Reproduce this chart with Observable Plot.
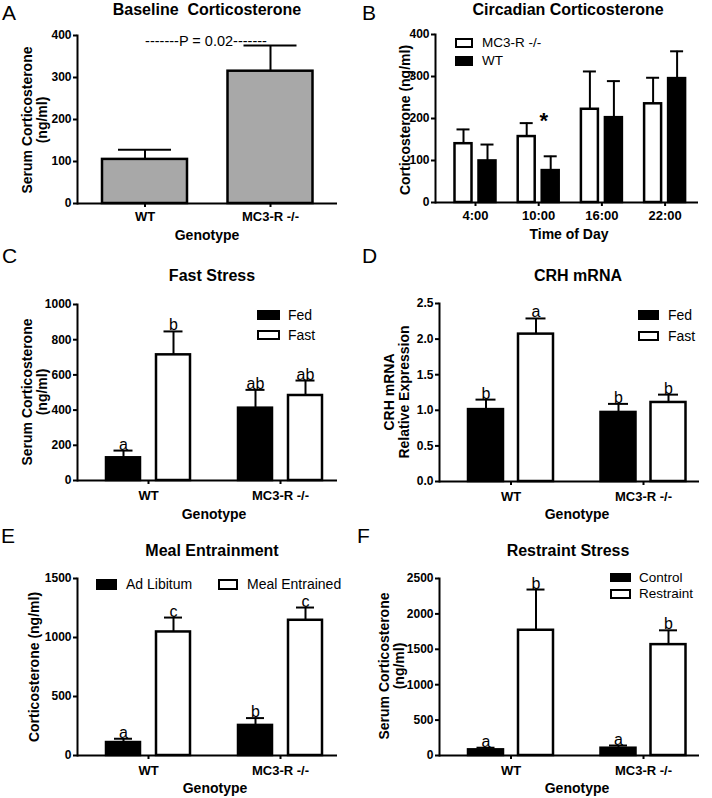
<!DOCTYPE html>
<html><head><meta charset="utf-8">
<script src="https://cdn.jsdelivr.net/npm/d3@7"></script>
<script src="https://cdn.jsdelivr.net/npm/@observablehq/plot@0.6"></script>
<style>
html,body{margin:0;padding:0;background:#fff;}
#fig{position:relative;width:712px;height:798px;overflow:hidden;background:#fff;font-family:"Liberation Sans",Arial,Helvetica,sans-serif;color:#000;}
#fig svg{position:absolute;background:transparent;}
#fig svg g[aria-label="y-axis tick label"] text{font-size:12px;font-weight:bold;}
#fig svg g[aria-label="x-axis tick label"] text{font-size:13px;font-weight:bold;}
.t{position:absolute;white-space:pre;line-height:1;text-align:center;}
.sw{position:absolute;box-sizing:border-box;border:2px solid #000;}
</style></head><body><div id="fig"></div>
<script>
// ---------- data ----------
const genotypes = ["WT", "MC3-R -/-"];

const baselineMean = [105, 315];
const baselineSem = [23, 61];

const times = ["4:00", "10:00", "16:00", "22:00"];
const circMC3Mean = [140, 157, 222, 235];
const circMC3Sem = [34, 32, 90, 62];
const circWTMean = [99, 76, 202, 295];
const circWTSem = [39, 34, 87, 65];
const circSig = ["", "*", "", ""];
const circLegend = ["MC3-R -/-", "WT"];

const fastFedMean = [129, 411];
const fastFedSem = [41, 104];
const fastFedLetters = ["a", "ab"];
const fastFastMean = [714, 483];
const fastFastSem = [133, 85];
const fastFastLetters = ["b", "ab"];
const fastLegend = ["Fed", "Fast"];

const crhFedMean = [1.01, 0.97];
const crhFedSem = [0.14, 0.12];
const crhFedLetters = ["b", "b"];
const crhFastMean = [2.07, 1.11];
const crhFastSem = [0.22, 0.11];
const crhFastLetters = ["a", "b"];

const mealAdLibMean = [110, 255];
const mealAdLibSem = [32, 62];
const mealAdLibLetters = ["a", "b"];
const mealEntrainedMean = [1047, 1146];
const mealEntrainedSem = [122, 108];
const mealEntrainedLetters = ["c", "c"];
const mealLegend = ["Ad Libitum", "Meal Entrained"];

const controlMean = [80, 103];
const controlSem = [30, 38];
const controlLetters = ["a", "a"];
const restraintMean = [1769, 1566];
const restraintSem = [575, 202];
const restraintLetters = ["b", "b"];
const restraintLegend = ["Control", "Restraint"];

const ticksA = [0, 100, 200, 300, 400];
const ticksB = [0, 100, 200, 300, 400];
const ticksC = [0, 200, 400, 600, 800, 1000];
const ticksD = [0, 0.5, 1.0, 1.5, 2.0, 2.5];
const ticksE = [0, 500, 1000, 1500];
const ticksF = [0, 500, 1000, 1500, 2000, 2500];

// ---------- drawing ----------
const fig = document.getElementById("fig");
const FONT = "Liberation Sans, Arial, Helvetica, sans-serif";
const intFmt = d3.format("d");

function panel(cfg) {
  const {groups, series, yDomain, yTicks, yFormat = intFmt, g, extra = []} = cfg;
  const n = groups.length;
  const pi = 1 - g.bw / g.step, po = 0.5;
  const r0 = g.c1 - g.bw / 2 - po * g.step;
  const r1 = r0 + g.step * (n - pi + 2 * po);
  const offs = series.length === 1 ? [0] : [-(g.gap + g.w) / 2, (g.gap + g.w) / 2];
  const marks = [];
  series.forEach((s, i) => {
    const rows = groups.map((name, j) => ({
      group: name, mean: s.mean[j], top: s.mean[j] + s.sem[j],
      letter: s.letters ? s.letters[j] : ""
    }));
    const off = offs[i];
    marks.push(Plot.barY(rows, {
      x: "group", y: "mean", fill: s.fill, stroke: "#000", strokeWidth: 2.5,
      insetLeft: g.bw / 2 + off - g.w / 2, insetRight: g.bw / 2 - off - g.w / 2
    }));
    marks.push(Plot.ruleX(rows, {x: "group", y1: "mean", y2: "top", dx: off, stroke: "#000", strokeWidth: 2}));
    marks.push(Plot.tickY(rows, {
      x: "group", y: "top", stroke: "#000", strokeWidth: 2,
      insetLeft: g.bw / 2 + off - g.cap / 2, insetRight: g.bw / 2 - off - g.cap / 2
    }));
    if (s.letters) {
      marks.push(Plot.text(rows, {
        x: "group", y: "top", text: "letter", dx: off, dy: -1, lineAnchor: "bottom",
        fontSize: 16, fill: "#000"
      }));
    }
  });
  marks.push(...extra);
  marks.push(Plot.ruleY([0], {stroke: "#000", strokeWidth: 2}));
  marks.push(Plot.frame({anchor: "left", stroke: "#000", strokeWidth: 2}));
  marks.push(Plot.axisY({ticks: yTicks, tickFormat: yFormat, tickSize: 4, tickPadding: 2,
    strokeWidth: 2, fontSize: 12, fontWeight: "bold", label: null}));
  marks.push(Plot.axisX({tickSize: 4, tickPadding: g.xPad, strokeWidth: 2,
    fontSize: 13, fontWeight: "bold", label: null}));
  const svg = Plot.plot({
    width: g.width, height: g.height,
    marginLeft: g.mL, marginRight: g.mR, marginTop: g.mT, marginBottom: g.mB,
    style: {fontFamily: FONT, fontSize: "12px", color: "#000", background: "transparent", overflow: "visible"},
    x: {type: "band", domain: groups, range: [r0, r1], paddingInner: pi, paddingOuter: po, align: 0.5, round: false},
    y: {domain: yDomain},
    marks
  });
  svg.style.position = "absolute";
  svg.style.left = g.left + "px";
  svg.style.top = g.top + "px";
  fig.appendChild(svg);
}

function txt(s, x, y, size, weight = "normal", rotate = false, lh = 1) {
  const d = document.createElement("div");
  d.className = "t";
  d.textContent = s;
  d.style.left = x + "px";
  d.style.top = y + "px";
  d.style.fontSize = size + "px";
  d.style.fontWeight = weight;
  d.style.lineHeight = lh;
  d.style.transform = "translate(-50%,-50%)" + (rotate ? " rotate(-90deg)" : "");
  fig.appendChild(d);
}
function ltxt(s, x, y, size, weight = "normal", lh = 1) {
  const d = document.createElement("div");
  d.className = "t";
  d.textContent = s;
  d.style.left = x + "px";
  d.style.top = y + "px";
  d.style.fontSize = size + "px";
  d.style.fontWeight = weight;
  d.style.lineHeight = lh;
  d.style.transform = "translate(0,-50%)";
  fig.appendChild(d);
}
function swatch(x, y, w, h, fill) {
  const d = document.createElement("div");
  d.className = "sw";
  Object.assign(d.style, {left: x + "px", top: y + "px", width: w + "px", height: h + "px", background: fill});
  fig.appendChild(d);
}

// A
panel({
  groups: genotypes,
  series: [{mean: baselineMean, sem: baselineSem, fill: "#a8a8a8"}],
  yDomain: [0, 400], yTicks: ticksA,
  g: {left: 0, top: 0, width: 356, height: 265, mL: 77, mR: 19, mT: 35, mB: 62,
      c1: 144.5, step: 125.5, bw: 85, w: 85, gap: 0, cap: 53, xPad: 4}
});
// B
const circTopRows = times.map((t, j) => ({
  time: t, y: Math.max(circMC3Mean[j] + circMC3Sem[j], circWTMean[j] + circWTSem[j]), sig: circSig[j]
}));
panel({
  groups: times,
  series: [
    {mean: circMC3Mean, sem: circMC3Sem, fill: "#fff"},
    {mean: circWTMean, sem: circWTSem, fill: "#000"}
  ],
  yDomain: [0, 400], yTicks: ticksB,
  extra: [Plot.text(circTopRows, {x: "time", y: "y", text: "sig", dx: 5, dy: -2, lineAnchor: "middle",
    fontSize: 22, fontWeight: "bold", fill: "#000"})],
  g: {left: 356, top: 0, width: 356, height: 265, mL: 79, mR: 14, mT: 34, mB: 63,
      c1: 119, step: 63.2, bw: 41, w: 17, gap: 7, cap: 13, xPad: 4}
});
// C
panel({
  groups: genotypes,
  series: [
    {mean: fastFedMean, sem: fastFedSem, letters: fastFedLetters, fill: "#000"},
    {mean: fastFastMean, sem: fastFastSem, letters: fastFastLetters, fill: "#fff"}
  ],
  yDomain: [0, 1000], yTicks: ticksC,
  g: {left: 0, top: 265, width: 356, height: 265, mL: 77, mR: 19, mT: 39, mB: 50,
      c1: 148, step: 132, bw: 84, w: 34, gap: 16, cap: 19, xPad: 6}
});
// D
panel({
  groups: genotypes,
  series: [
    {mean: crhFedMean, sem: crhFedSem, letters: crhFedLetters, fill: "#000"},
    {mean: crhFastMean, sem: crhFastSem, letters: crhFastLetters, fill: "#fff"}
  ],
  yDomain: [0, 2.5], yTicks: ticksD, yFormat: d3.format(".1f"),
  g: {left: 356, top: 265, width: 356, height: 265, mL: 83, mR: 13, mT: 38, mB: 49,
      c1: 154.5, step: 132.5, bw: 85, w: 35, gap: 15, cap: 20, xPad: 6}
});
// E
panel({
  groups: genotypes,
  series: [
    {mean: mealAdLibMean, sem: mealAdLibSem, letters: mealAdLibLetters, fill: "#000"},
    {mean: mealEntrainedMean, sem: mealEntrainedSem, letters: mealEntrainedLetters, fill: "#fff"}
  ],
  yDomain: [0, 1500], yTicks: ticksE,
  g: {left: 0, top: 530, width: 356, height: 268, mL: 77, mR: 19, mT: 48, mB: 43,
      c1: 148, step: 132, bw: 84, w: 34, gap: 16, cap: 18, xPad: 6}
});
// F
panel({
  groups: genotypes,
  series: [
    {mean: controlMean, sem: controlSem, letters: controlLetters, fill: "#000"},
    {mean: restraintMean, sem: restraintSem, letters: restraintLetters, fill: "#fff"}
  ],
  yDomain: [0, 2500], yTicks: ticksF,
  g: {left: 356, top: 530, width: 356, height: 268, mL: 83, mR: 13, mT: 48, mB: 43,
      c1: 154.5, step: 132.5, bw: 85, w: 35, gap: 15, cap: 18, xPad: 6}
});

// ---------- text overlays ----------
ltxt("A", 2, 12, 21); ltxt("B", 362, 12, 21);
ltxt("C", 2, 255, 21); ltxt("D", 362, 255, 21);
ltxt("E", 1, 535, 21); ltxt("F", 357, 535, 21);
txt("Baseline  Corticosterone", 207, 10, 16, "bold");
txt("Circadian Corticosterone", 568, 10, 16, "bold");
txt("Fast Stress", 212, 276, 16, "bold");
txt("CRH mRNA", 578, 276, 16, "bold");
txt("Meal Entrainment", 212, 551, 16, "bold");
txt("Restraint Stress", 568, 551, 16, "bold");
txt("Genotype", 207, 235, 14, "bold");
txt("Time of Day", 569, 234, 14, "bold");
txt("Genotype", 214, 514, 14, "bold");
txt("Genotype", 577, 514, 14, "bold");
txt("Genotype", 215, 788, 14, "bold");
txt("Genotype", 577, 788, 14, "bold");
txt("Serum Corticosterone\n(ng/ml)", 34.5, 120, 14, "bold", true, 1.05);
txt("Corticosterone (ng/ml)", 405, 120, 14, "bold", true);
txt("Serum Corticosterone\n(ng/ml)", 34.5, 392, 14, "bold", true, 1.05);
txt("CRH mRNA\nRelative Expression", 396.5, 392, 14, "bold", true, 1.05);
txt("Corticosterone (ng/ml)", 34, 667, 14, "bold", true);
txt("Serum Corticosterone\n(ng/ml)", 392, 666, 14, "bold", true, 1.05);
txt("-------P = 0.02-------", 206, 41, 14.5);
swatch(455, 38, 18, 10, "#fff"); ltxt(circLegend[0], 482, 43, 13.5);
swatch(455, 56, 18, 10, "#000"); ltxt(circLegend[1], 482, 61, 13.5);
swatch(257, 310, 23, 10, "#000"); ltxt(fastLegend[0], 288, 315, 14);
swatch(257, 330, 23, 10, "#fff"); ltxt(fastLegend[1], 288, 335, 14);
swatch(638, 310, 21, 10, "#000"); ltxt(fastLegend[0], 668, 315, 14);
swatch(638, 331, 21, 10, "#fff"); ltxt(fastLegend[1], 668, 336, 14);
swatch(96, 579, 21, 11, "#000"); ltxt(mealLegend[0], 126, 584, 14);
swatch(218, 579, 20, 11, "#fff"); ltxt(mealLegend[1], 247, 584, 14);
swatch(610, 573, 21, 9, "#000"); ltxt(restraintLegend[0], 639, 577.5, 13.5);
swatch(610, 589, 21, 10, "#fff"); ltxt(restraintLegend[1], 639, 594, 13.5);
</script>
</body></html>
